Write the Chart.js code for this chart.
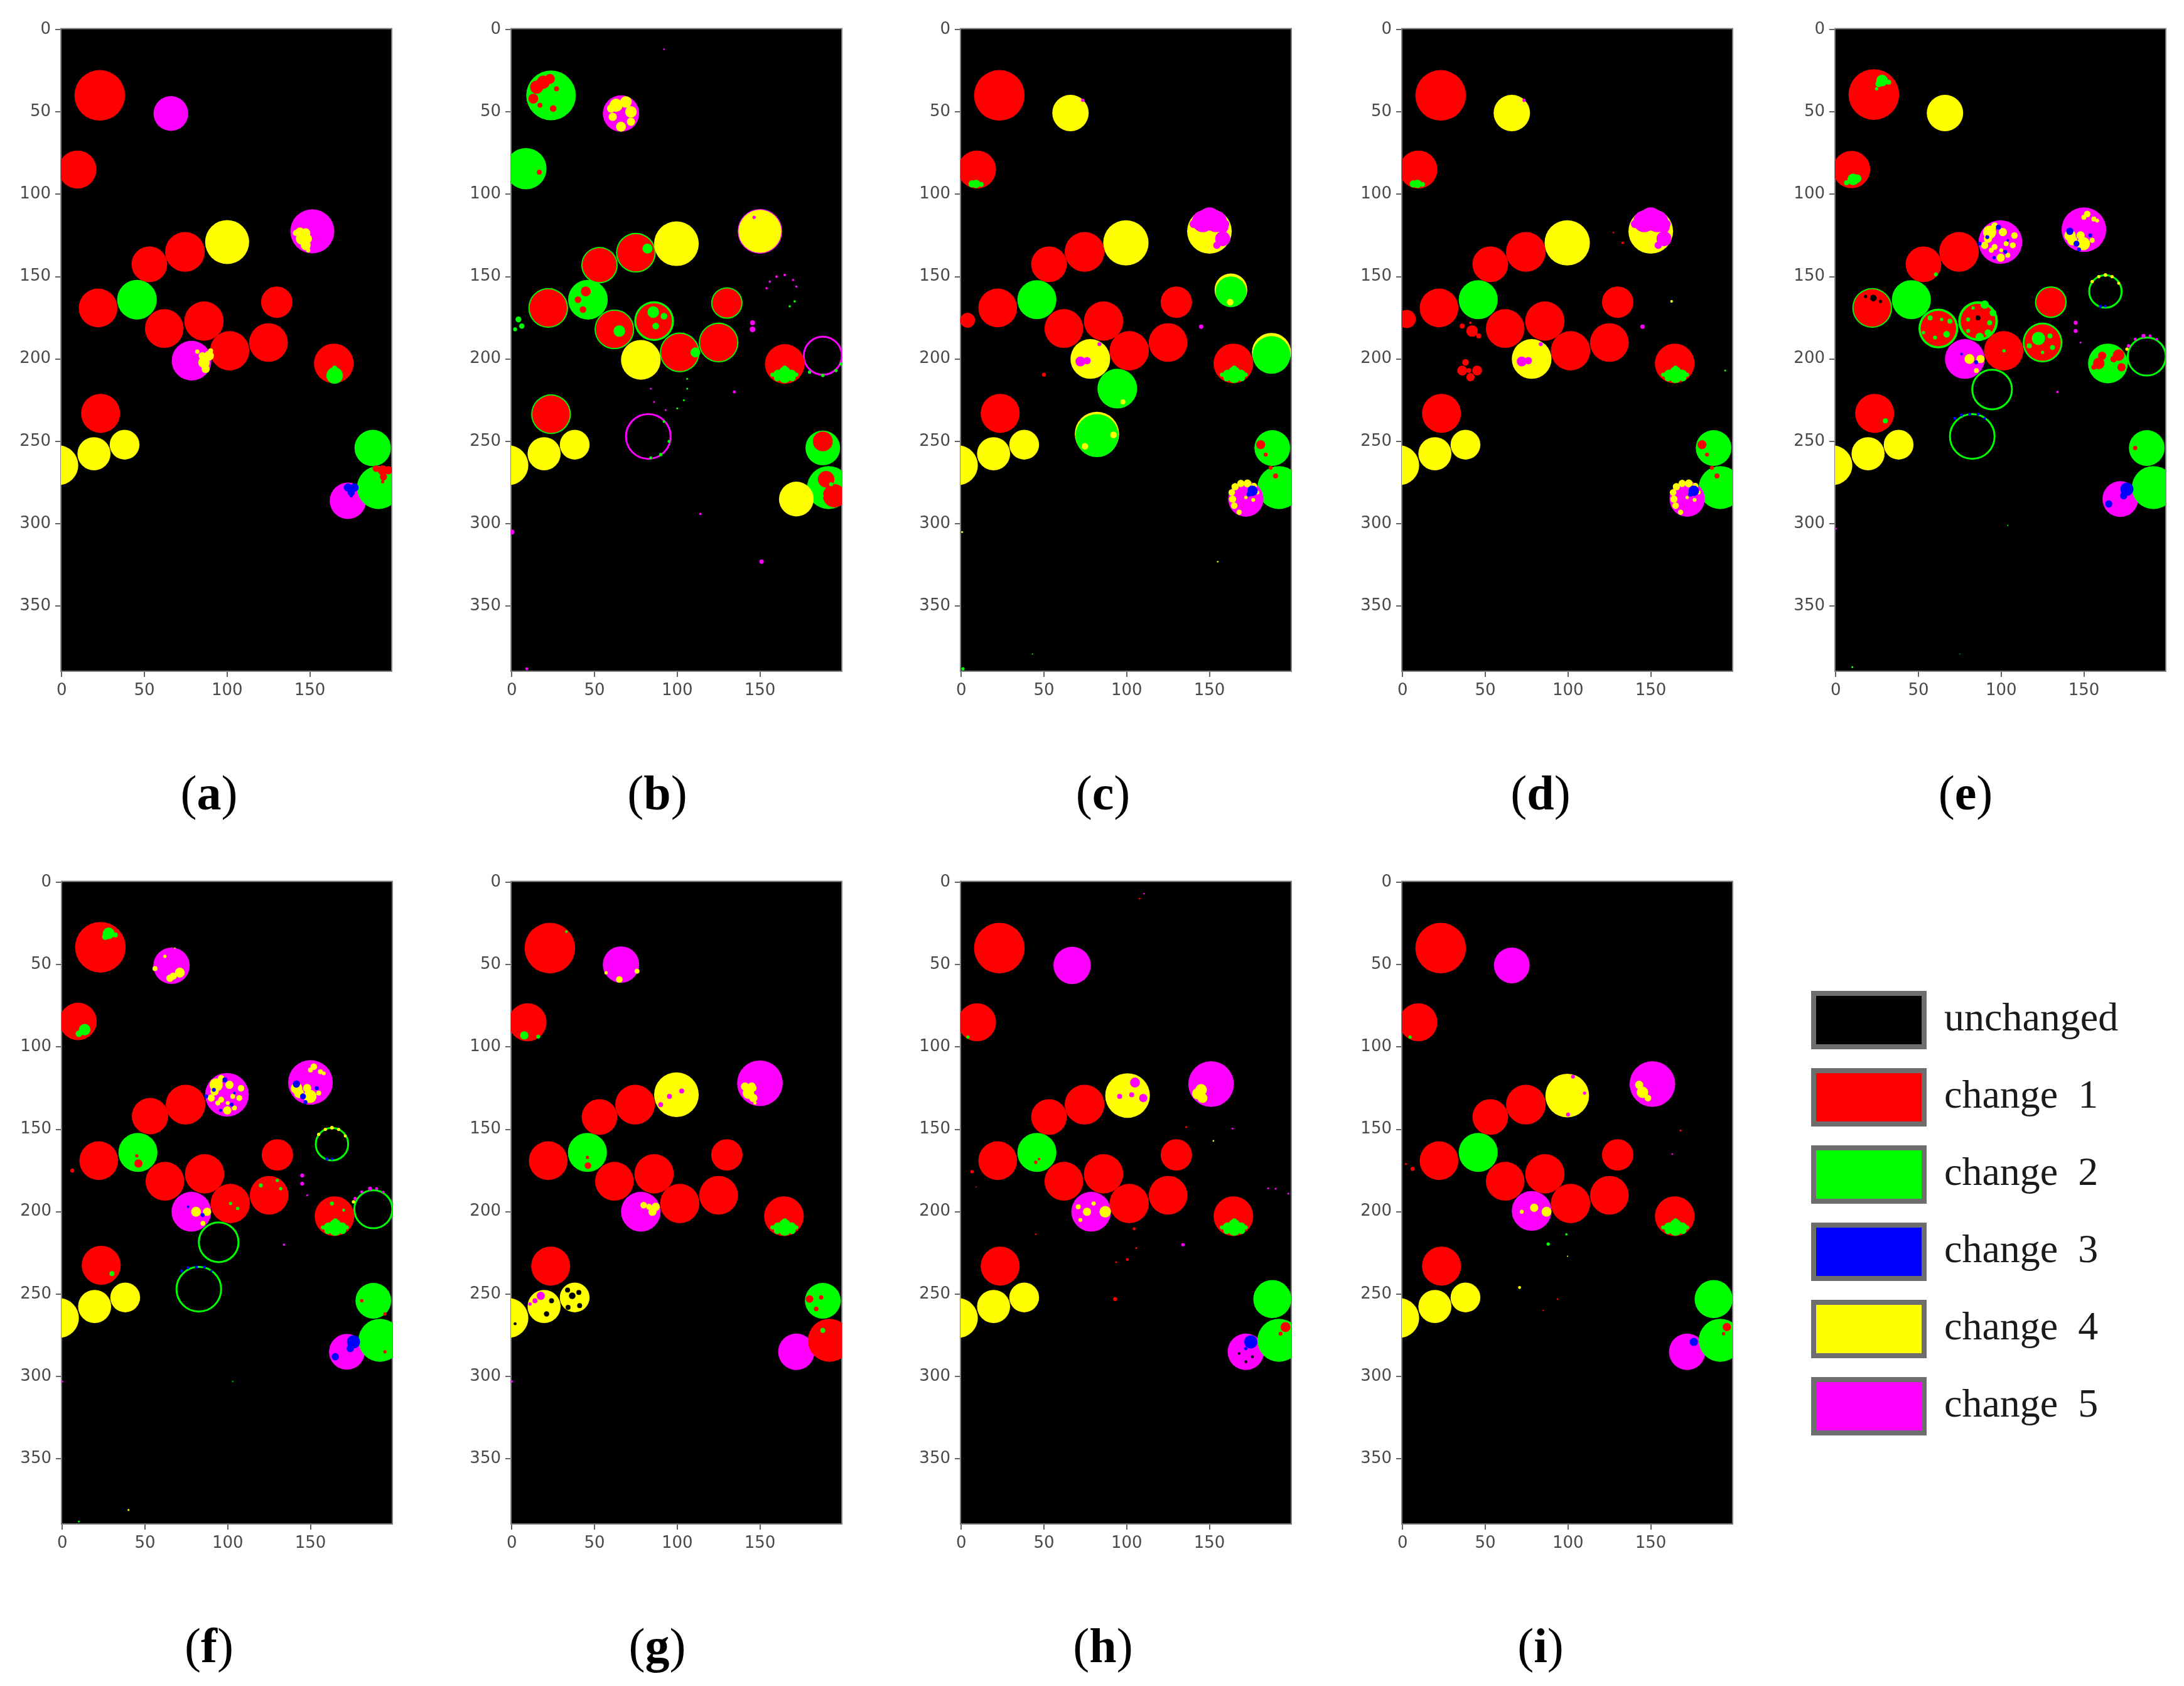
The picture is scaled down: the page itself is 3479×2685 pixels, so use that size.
<!DOCTYPE html>
<html>
<head>
<meta charset="utf-8">
<title>Change maps</title>
<script src="https://cdn.jsdelivr.net/npm/chart.js@4"></script>
<style>
    body { margin: 0; background: #fff; }
    #page { position: relative; width: 3479px; height: 2685px; overflow: hidden; }
    canvas { position: absolute; }
    .caption { position: absolute; width: 200px; margin-left: -100px; text-align: center; color: #000;
        font: 78px/90px "Liberation Serif", serif; }
    .caption b { font-weight: bold; }
</style>
</head>
<body>
<div id="page"></div>
<script>
// axis ticks, in image pixels
const xTicks = [0, 50, 100, 150];
const yTicks = [0, 50, 100, 150, 200, 250, 300, 350];
const legendNames = ['unchanged', 'change  1', 'change  2', 'change  3', 'change  4', 'change  5'];
const legendColors = ['#000000', '#ff0000', '#00ff00', '#0000ff', '#ffff00', '#ff00ff'];

// every disc is [x, y, radius], in image pixels
const commonRed = [[23, 40, 15.3], [74.5, 135, 12], [53, 142.5, 10.8], [22, 169, 11.7], [130, 165.5, 9.5], [86, 177, 11.9], [62, 181.5, 11.7], [101.5, 195, 11.9], [125, 190, 11.7], [23.5, 233, 11.8]];
const commonYellow = [[38, 252, 9], [19.5, 257.5, 10], [-2, 264.5, 12]];
const leftRed = [[9.5, 85, 11.5]];
const tumorP = [[164.5, 202.7, 12]];
const wedgeP = [[165, 205.5, 1.5], [165, 208, 3.5], [161, 209.5, 3], [169, 209.5, 3], [157.5, 209.5, 1.2], [172, 209.5, 1.2], [165, 211, 3.6], [160.5, 211.5, 2], [169.5, 211.5, 2]];
const greenWX = [[188, 254, 10.8], [192, 278, 13]];
const ringR = [[163, 159, 9.8]];
const ringQ = [[188, 198, 11.5]];
const ringS = [[94.5, 218.5, 12]];
const ringT = [[82.5, 247, 13.5]];

// panels (e) and (f) share the same mottled discs
const mottledMagenta = [[99.5, 129, 13.2], [150, 121.5, 13.5], [78, 200, 12], [172, 285, 10.8]];
const mottledYellow = [[93, 123, 4], [90, 131, 2.2], [101, 123, 2.5], [108, 125, 2], [99.7, 138.5, 2.5], [96, 132, 1.8], [92, 127, 2.5], [96, 119, 2], [103, 130, 1.5], [107, 131, 1.8], [94, 134, 1.5], [104, 137, 1.5], [100, 134, 1.2], [141.6, 125, 3.5], [149.7, 130, 4], [143, 128, 3], [148, 125, 2.5], [155, 128, 1.5], [152, 112, 2], [156, 115, 1.5], [158, 116, 1.2], [150, 114, 1.5], [80.8, 200, 3], [87.5, 200, 2.5], [85, 207, 1.5]];
const mottledBlue = [[98.3, 120, 1.5], [91.6, 126, 1.2], [87, 130, 1.2], [95.7, 138.5, 1], [102.4, 135, 1.2], [104, 128, 0.8], [141.5, 122.5, 2.2], [145.5, 130, 1.8], [153.8, 125, 1.2], [147, 133.5, 1.2], [84.8, 202, 1.2], [76, 197, 0.8], [176, 279, 4], [174, 283, 2.2], [165, 288, 2.2]];
const mottledRim = [[86, 177, 12], [62, 181.5, 12], [125, 190, 12], [130, 165.5, 9.6], [164.5, 202.7, 12], [22, 169, 12]];
const mottledRingTop = [[155, 153, 1], [159, 150, 1], [163, 149, 1.1], [167, 150, 1], [171, 154, 0.9], [176, 194, 1]];
const mottledRingBlue = [[160, 168, 1], [163, 168, 0.8], [72, 236, 0.9], [76, 234, 0.9], [81, 233.5, 0.9], [86, 233.5, 0.9], [90, 236, 0.7]];
const mottledRingMagenta = [[177, 192, 1], [181, 188, 0.9], [186, 186, 1.2], [190, 186, 0.9], [194, 188, 0.8]];
const mottledRingGreen = [[188, 198.5, 11.5], ...ringS, ...ringT];

// (a)
const aMagenta = [[66, 51, 10.5], [151.5, 122.5, 13.3], [78.5, 201, 12], [173, 286, 11]];
const aYellow = [[100, 129, 13.3]];
const aGreen = [[45.5, 164, 12], [188, 254, 11], [191.5, 278, 13]];
const aPatchYellow = [[144, 123, 2.8], [147.5, 123.5, 2.8], [141.5, 123.5, 1.8], [145, 127, 3.5], [148.5, 127, 2.8], [147.5, 131, 3], [149, 134, 1.3], [82, 195.5, 1.3], [85, 198, 2.2], [89, 198, 3], [86, 202, 3.5], [87, 206, 2.5], [90, 195, 1.5]];
const aPatchGreen = [[165, 210, 5], [165, 205.5, 1.5]];
const aPatchRed = [[190, 266.5, 2], [194, 267.5, 3], [197.5, 267.5, 2.5], [194.5, 271.5, 2.2], [194, 274.5, 1]];
const aPatchBlue = [[173, 278, 2.5], [177, 278, 2.5], [175, 281, 2.2], [175, 283, 1]];

// (b)
const bRim = [[23.7, 40, 15], [8.5, 84.5, 12.5], [75, 135.5, 12], [53, 143, 11], [22, 169, 12], [46, 164, 12], [86, 177, 12], [62, 182, 12], [101.5, 196, 12], [125, 190, 12], [130, 166, 9.5], [23.7, 233.5, 12], [188, 254, 10.5], [191.5, 278, 13]];
const bRed = [[75, 135.5, 11.3], [53, 143, 10.3], [22, 169, 11.3], [62, 182, 11.3], [101.5, 196, 11.3], [125, 190, 11.3], [130, 166, 8.8], [23.7, 233.5, 11.3], [86, 177, 10.8], [165, 203, 12], [15, 35, 4], [19, 32, 4], [23, 30, 3], [13, 42, 3], [17, 46, 1.5], [25, 48, 2], [27, 36, 1.5], [44.7, 159, 3], [43, 170, 2], [40, 164, 2], [16.6, 86.6, 1.5], [188, 250, 6], [195, 283, 7], [190, 273, 5]];
const bMagenta = [[66, 51, 11], [150, 122.5, 13.5]];
const bYellow = [[99.5, 130, 13.5], [150, 122.5, 13], [78, 200.5, 12], [172, 285, 10.5], [63, 46, 4], [69, 44, 3.5], [72, 50, 3.5], [61, 53, 2.5], [66, 59, 3], [72, 56, 2.5], [60, 48, 2.5]];
const bPatchGreen = [[82, 133, 3], [65, 183, 3.5], [85.5, 171.5, 3.5], [87, 180, 2], [92, 174, 2], [111, 196, 3], [193, 276, 1.2], [187, 283, 1.5], [4, 176, 1.8], [6, 180, 1.6], [2, 182, 1.2], ...wedgeP];
const bSpeckMagenta = [[146.5, 114, 1], [145.5, 178, 1.5], [145.5, 182, 1.7], [134.5, 220, 0.9], [151, 323, 1.3], [114, 294, 0.7], [0, 305, 1.5], [9, 388, 0.9], [92, 12, 0.5], [154, 157, 0.7], [156, 153, 0.7], [160, 150, 0.8], [165, 149, 0.8], [170, 152, 0.7], [172, 156, 0.7], [84, 218, 0.6], [86, 226, 0.6], [93, 231, 0.6]];
const bRingMagenta = [...ringQ, ...ringT];
const bRingDots = [[180, 208, 1], [188, 210, 1], [196, 207, 1], [199, 203, 1], [90, 258, 1], [95, 250, 0.9], [84, 260, 0.9], [92, 238, 0.8], [168, 168, 0.7], [171, 165, 0.7], [106, 218, 0.6], [104, 225, 0.6], [100, 230, 0.6], [106, 212, 0.6]];

// (c)
const cRed = [[3.8, 176.5, 4.5], [50, 209.5, 1.2], [181, 252, 2.7], [184, 258, 1.2], [187, 266, 1.2], [190, 271, 1.5]];
const cYellowBase = [[99.5, 129.5, 13.7], [150, 122.5, 13.5], [78, 200, 12], [187.5, 196, 11.8], [163, 158, 9.9], [82, 245.5, 13.4], [66, 50.7, 11]];
const cGreen = [[45.7, 164, 11.8], [187.5, 197.5, 11.4], [163, 159.2, 9.3], [94.3, 218, 12], [82, 246.5, 13]];
const cMagenta = [[146, 116.5, 6.5], [154, 116.5, 6.5], [150, 115, 7], [140.5, 118, 2.5], [159.5, 118, 2.5], [158, 120, 3.5], [158, 127, 4.5], [154.5, 131, 2.2], [72, 201.5, 3], [76, 201, 2.2], [83.5, 191, 1.2], [73.4, 43, 1], [145, 180.4, 1.3]];
const cPatchYellow = [[162.5, 165.5, 2], [97.7, 226, 1.5], [92, 246, 2], [74.7, 253, 2], [0.5, 305, 0.6], [155, 323, 0.5]];
const cPatchGreen = [[6.5, 93.7, 2.2], [9, 93.7, 2.5], [12, 94, 1.5], [1, 388, 1], [43, 379, 0.4], ...wedgeP];
const cSpotMagenta = [[172, 285, 10.7]];
const cSpotYellow = [[164, 285, 2.2], [163.5, 281, 2], [165.5, 277.5, 2.2], [169, 275.5, 2.2], [173, 275.5, 2.4], [177, 277, 1.8], [179, 281, 1.2], [176.5, 285.5, 1.2], [172, 284, 1], [165, 289, 2], [168, 293, 1.6]];
const cSpotBlue = [[176, 280, 3.2], [174, 282, 1.5]];

// (d)
const dRed = [[2.5, 175.7, 5.5], [42, 183, 3.5], [46, 186, 1.5], [36, 180, 1.5], [41, 178, 0.8], [36, 207, 3], [45, 207, 3], [41, 211, 2.5], [38, 202, 2], [40, 207, 1.5], [127.4, 123.3, 0.5], [133, 129.5, 0.8]];
const dYellowBase = [[99.5, 129.5, 13.7], [150, 122.5, 13.5], [78, 200, 12], [66, 50.7, 11]];
const dGreen = [[45.7, 164, 11.8], [192, 278, 13], [188, 254, 10.8]];
const dSpecks = [[162.6, 165, 0.8]];
const dGreenSpeck = [[195, 207, 0.6], [6.5, 93.7, 2.2], [9, 93.7, 2.5], [12, 94, 1.5], ...wedgeP];

// (e)
const eGreen = [[45.7, 164, 11.8], [188, 254, 10.8], [192, 278, 13]];
const eRedBodies = [[23, 39.5, 15.3], [74.5, 135, 12], [53, 142.5, 10.8], [101.5, 195, 11.9], [23.5, 233, 11.8], [9.5, 85, 11.3], [22, 169, 11.3], [86, 177, 10.5], [62, 181.5, 10.7], [125, 190, 11], [130, 165.5, 8.8]];
const ePatchGreen = [[28, 31, 3.5], [26, 33, 2], [32, 32, 1.5], [24.7, 36, 1], [10.5, 91, 3.5], [13, 90.5, 2.5], [6.5, 93, 1.5], [90, 167, 2.5], [95, 172, 2], [83, 169, 1], [87, 186.6, 2.5], [92, 184, 2], [80, 183, 1.2], [80, 176, 1.2], [93, 178, 1.5], [69, 177, 1.5], [60, 187, 1.2], [57, 175, 1.5], [67, 185, 2], [53, 184, 1], [64, 176, 1], [122.5, 187.5, 4], [117, 192, 1.5], [129.5, 186, 1.5], [131, 193, 1.5], [125, 196, 1], [101.7, 195, 1], [60.5, 148.6, 1.2], [30, 237.5, 1.5], [104, 301, 0.4], [10, 387, 0.6], [75, 379, 0.3]];
const ePatchRed = [[159, 202.7, 3.5], [161, 198, 2.5], [156, 205, 1.5], [171, 197.6, 3.5], [168, 200, 2], [172.7, 205, 2.5], [181, 254, 1.3]];
const ePatchBlack = [[22.7, 163, 2], [18, 162, 1], [27, 165, 1], [86, 175, 1.5]];
const eYellow = [[66, 50.7, 11], ...commonYellow];
const eSpecks = [[145, 178, 1.2], [145, 183, 1.2], [148, 190, 0.6], [134, 220, 0.7], [0, 303, 0.6]];

// (f)
const fMagentaSpots = [[66, 50.7, 11]];
const fYellowSpots = [[71, 54.9, 3], [67, 57, 2.2], [65, 58.3, 2.2], [56, 52.4, 1.5], [62, 45, 1], [68, 40, 0.4], [40, 381, 0.6]];
const fRed = [[23, 39.5, 15.3], [74.5, 135, 12], [53, 142, 11], [22, 169, 11.7], [130, 165.5, 9.5], [86, 177, 11.9], [62, 181.5, 11.7], [101.5, 195, 11.9], [125, 190, 11.7], [23.5, 232.5, 11.8], [9.5, 84.5, 11.3], [164.5, 202.7, 12], [46, 170.7, 2.5], [45, 166, 1]];
const fPatchGreen = [[13.5, 89.5, 3.5], [10, 92, 2], [28, 31, 3.5], [26, 33, 2], [32, 32, 1.5], [101.7, 195, 1], [106, 198, 1], [120, 184, 1.2], [130, 181, 1], [132, 186, 1], [163, 195, 1.2], [170, 199, 0.9], [30, 237.5, 1.5], [103, 303, 0.4], [10, 388, 0.6], ...wedgeP];
const fGreenBig = [[45.7, 164, 11.8], [188, 254, 10.8], [192, 278, 13]];
const fSpecksRed = [[6, 175, 1.2], [181, 254, 1], [195, 262, 1], [195, 285, 1]];

// (g)
const gYellow = [[99.5, 129, 13.5], [38, 252, 9], [19.5, 257.5, 10], [-2, 264.5, 12]];
const gMagenta = [[66, 50, 11], [150, 122, 13.8], [78, 200, 12], [172, 285, 11]];
const gGreen = [[45.7, 164, 11.8], [188, 254, 10.8]];
const gRed = [[192, 278, 13], [180, 253, 2.3], [187, 252, 1.3], [184, 259, 1.4], [46, 172, 2], [45.7, 167, 1]];
const gPatchYellow = [[65, 59, 2], [75.7, 54, 1.5], [57, 55, 1], [141, 124, 2.5], [145, 124, 2.5], [143, 128, 3.5], [146, 131, 2.5], [146, 125, 2], [147, 134, 1], [79.7, 196, 2], [85, 200, 2.5], [87, 197, 2.5], [83, 197, 1.8]];
const gPatchMagenta = [[102.7, 126.7, 1.5], [95.3, 130, 1.5], [90, 135, 1.5], [17.5, 251, 2.5], [14, 254, 1.5], [11, 256, 1], [0, 303, 0.7]];
const gPatchBlack = [[36.5, 251, 2], [33.7, 247.5, 1.5], [40.5, 249, 1.5], [41, 257, 1.5], [34, 258, 1.5], [24, 254, 1.5], [21, 262, 1.6], [12, 266, 1.2], [2, 268, 0.9]];
const gPatchGreen = [[7.5, 93, 2.5], [16, 93.7, 1.2], [188, 272, 1.5], [33, 30, 0.8], ...wedgeP];

// (h)
const hMagenta = [[67, 50.5, 11.3], [151, 122.5, 13.8], [78.5, 200, 12], [172, 285, 11]];
const hYellow = [[100.5, 129.5, 13.5], ...commonYellow];
const hGreen = [[45.7, 164, 11.8], [188, 253, 11.5], [192, 278, 13]];
const hPatchRed = [[196, 270, 3], [193, 274, 1.2], [45, 170, 1], [47, 168, 0.8], [104.5, 210.3, 0.9], [105.8, 222, 0.6], [100.4, 229, 0.9], [93.6, 230.6, 0.6], [107.8, 10, 0.5], [45, 213.7, 0.5], [93, 253, 1.2], [136, 148.6, 0.6], [6.5, 175.7, 1], [9, 185, 0.4]];
const hPatchMagenta = [[105, 121.6, 3], [110, 131, 2.5], [103, 129, 1.5], [95.7, 130, 1.5], [110.5, 7, 0.5], [134, 220, 1], [164, 149.5, 0.6], [185.5, 185.8, 0.6], [190, 186, 0.6], [197.7, 189, 0.6]];
const hPatchYellow = [[143, 128.4, 3.5], [145, 126, 3.5], [145.8, 131, 3], [87, 200, 3.5], [76, 200, 2.5], [70.7, 197, 1.5], [80, 195, 1.3], [72, 205, 1.2], [152.4, 157, 0.5]];
const hPatchBlue = [[175, 279, 4], [172, 283, 1]];
const hPatchBlack = [[172, 291, 0.9], [176, 288, 0.9], [168, 286, 0.8]];
const hPatchGreen = [[4, 94, 1], ...wedgeP];

// (i)
const iMagenta = [[66, 50.5, 10.8], [151, 122.5, 13.8], [78, 199.5, 12], [172, 285, 11]];
const iYellow = [[99.5, 129.5, 13.2], ...commonYellow];
const iGreen = [[45.7, 164, 11.8], [188, 253, 11.5], [192, 278, 13]];
const iPatchMagenta = [[103, 118, 1.2], [110, 128, 1], [100, 141, 1.2], [163, 165, 0.5]];
const iPatchYellow = [[145, 127.5, 3.5], [143, 123, 2.5], [148.3, 131, 2], [87, 200, 3], [79.5, 197.6, 2.5], [72, 200, 1.2], [70.7, 246, 0.9], [99.7, 227, 0.4]];
const iPatchBlue = [[176, 279, 2.5]];
const iPatchRed = [[196, 270, 2.5], [194, 274, 1], [93.6, 253, 0.5], [85, 260, 0.4], [168, 150.7, 0.6], [6, 174, 1.2], [2, 171, 0.6]];
const iPatchGreen = [[4.5, 94, 1], [99, 213.7, 0.7], [88, 219.6, 1], ...wedgeP];

const panelA = [['magenta', aMagenta], ['yellow', aYellow], ['yellow', commonYellow], ['green', aGreen], ['red', commonRed], ['red', leftRed], ['red', tumorP],
    ['yellow', aPatchYellow], ['green', aPatchGreen], ['red', aPatchRed], ['blue', aPatchBlue]];
const panelB = [['ring-magenta', bRingMagenta], ['magenta', bMagenta], ['green', bRim], ['red', bRed], ['yellow', bYellow], ['yellow', commonYellow],
    ['green', bPatchGreen], ['magenta', bSpeckMagenta], ['green', bRingDots]];
const panelC = [['yellow', cYellowBase], ['green', cGreen], ['red', commonRed], ['red', leftRed], ['red', tumorP], ['yellow', commonYellow], ['green', greenWX], ['red', cRed],
    ['green', cPatchGreen], ['magenta', cMagenta], ['yellow', cPatchYellow], ['magenta', cSpotMagenta], ['yellow', cSpotYellow], ['blue', cSpotBlue]];
const panelD = [['yellow', dYellowBase], ['green', dGreen], ['red', commonRed], ['red', leftRed], ['red', tumorP], ['yellow', commonYellow], ['red', dRed],
    ['green', dGreenSpeck], ['magenta', cMagenta], ['yellow', dSpecks], ['magenta', cSpotMagenta], ['yellow', cSpotYellow], ['blue', cSpotBlue], ['red', cRed.slice(2)]];
const panelE = [['ring-green', mottledRingGreen], ['ring-green', ringR], ['magenta', mottledMagenta], ['green', eGreen], ['green', mottledRim], ['red', eRedBodies],
    ['green', ePatchGreen], ['red', ePatchRed], ['black', ePatchBlack], ['yellow', eYellow], ['yellow', mottledYellow], ['blue', mottledBlue],
    ['yellow', mottledRingTop], ['blue', mottledRingBlue], ['magenta', mottledRingMagenta], ['magenta', eSpecks]];
const panelF = [['ring-green', mottledRingGreen], ['ring-green', ringR], ['magenta', mottledMagenta], ['magenta', fMagentaSpots], ['green', fGreenBig], ['red', fRed],
    ['green', fPatchGreen], ['red', fSpecksRed], ['yellow', commonYellow], ['yellow', mottledYellow], ['blue', mottledBlue],
    ['yellow', mottledRingTop], ['blue', mottledRingBlue], ['magenta', mottledRingMagenta], ['yellow', fYellowSpots], ['magenta', eSpecks]];
const panelG = [['yellow', gYellow], ['magenta', gMagenta], ['green', gGreen], ['red', commonRed], ['red', leftRed], ['red', tumorP], ['red', gRed],
    ['yellow', gPatchYellow], ['magenta', gPatchMagenta], ['black', gPatchBlack], ['green', gPatchGreen]];
const panelH = [['magenta', hMagenta], ['yellow', hYellow], ['green', hGreen], ['red', commonRed], ['red', leftRed], ['red', tumorP],
    ['red', hPatchRed], ['magenta', hPatchMagenta], ['yellow', hPatchYellow], ['blue', hPatchBlue], ['black', hPatchBlack], ['green', hPatchGreen]];
const panelI = [['magenta', iMagenta], ['yellow', iYellow], ['green', iGreen], ['red', commonRed], ['red', leftRed], ['red', tumorP],
    ['magenta', iPatchMagenta], ['yellow', iPatchYellow], ['blue', iPatchBlue], ['red', iPatchRed], ['green', iPatchGreen]];

// Layout of the figure, plot area top-left in page pixels
const unitPx = 527 / 200;
const plotW = 527, plotH = 1026;
const axisLeft = 70, axisBottom = 60, padTop = 20, padRight = 20;
const panels = [
    { name: 'a', layers: panelA, left: 97, top: 43 },
    { name: 'b', layers: panelB, left: 814, top: 43 },
    { name: 'c', layers: panelC, left: 1530, top: 43 },
    { name: 'd', layers: panelD, left: 2233, top: 43 },
    { name: 'e', layers: panelE, left: 2923, top: 43 },
    { name: 'f', layers: panelF, left: 98, top: 1401 },
    { name: 'g', layers: panelG, left: 814, top: 1401 },
    { name: 'h', layers: panelH, left: 1530, top: 1401 },
    { name: 'i', layers: panelI, left: 2233, top: 1401 },
];
const captionX = { a: 333, b: 1047, c: 1757, d: 2454, e: 3131, f: 333, g: 1047, h: 1757, i: 2454 };

const paletteOf = { red: '#ff0000', green: '#00ff00', blue: '#0000ff', yellow: '#ffff00', magenta: '#ff00ff', black: '#000000' };
const page = document.getElementById('page');

// Black image background and thin frame, behind the discs
const imageBackground = {
    id: 'imageBackground',
    beforeDatasetsDraw(chart) {
        const { ctx, chartArea: a } = chart;
        ctx.save();
        ctx.fillStyle = '#000';
        ctx.fillRect(a.left, a.top, a.width, a.height);
        ctx.strokeStyle = '#808080';
        ctx.lineWidth = 2;
        ctx.strokeRect(a.left, a.top, a.width, a.height);
        ctx.restore();
    }
};

function addCanvas(left, top, width, height) {
    const canvas = document.createElement('canvas');
    canvas.width = width;
    canvas.height = height;
    canvas.style.left = left + 'px';
    canvas.style.top = top + 'px';
    page.appendChild(canvas);
    return canvas;
}

function toDataset([colour, discs]) {
    const isRing = colour.startsWith('ring-');
    const name = colour.replace('ring-', '');
    return {
        label: colour,
        data: discs.map(([x, y, r]) => ({ x, y, r: r * unitPx })),
        backgroundColor: isRing ? 'transparent' : paletteOf[name],
        borderColor: paletteOf[name],
        borderWidth: isRing ? 3 : 0,
        clip: 0
    };
}

function axisOptions(ticks, min, max, extra) {
    return {
        type: 'linear',
        min: min,
        max: max,
        afterBuildTicks: (scale) => { scale.ticks = ticks.map(value => ({ value })); },
        grid: { drawOnChartArea: false, drawTicks: true, tickLength: 9, color: '#666', lineWidth: 2 },
        border: { display: false },
        ticks: {
            autoSkip: false, maxRotation: 0, padding: 7, color: '#4a4a4a',
            font: { family: 'DejaVu Sans', size: 26 }
        },
        ...extra
    };
}

panels.forEach((panel) => {
    const canvas = addCanvas(panel.left - axisLeft, panel.top - padTop, axisLeft + plotW + padRight, padTop + plotH + axisBottom);
    new Chart(canvas, {
        type: 'bubble',
        // Chart.js paints the first dataset last, so flip to keep patches on top of their discs
        data: { datasets: panel.layers.map(toDataset).reverse() },
        options: {
            responsive: false,
            animation: false,
            devicePixelRatio: 1,
            layout: { autoPadding: false, padding: { top: padTop, right: padRight, left: 0, bottom: 0 } },
            plugins: { legend: { display: false }, tooltip: { enabled: false } },
            scales: {
                x: axisOptions(xTicks, -0.5, 199.5, { afterFit: (scale) => { scale.height = axisBottom; } }),
                y: axisOptions(yTicks, -0.5, 389.5, { reverse: true, afterFit: (scale) => { scale.width = axisLeft; } })
            }
        },
        plugins: [imageBackground]
    });

    const caption = document.createElement('div');
    caption.className = 'caption';
    caption.innerHTML = `(<b>${panel.name}</b>)`;
    caption.style.left = captionX[panel.name] + 'px';
    caption.style.top = (panel.top + 1175) + 'px';
    page.appendChild(caption);
});

// Legend is a chart of its own, with empty datasets
new Chart(addCanvas(2851, 1544, 620, 860), {
    type: 'bubble',
    data: {
        datasets: legendNames.map((name, i) => ({
            label: name,
            data: [],
            backgroundColor: legendColors[i],
            borderColor: '#6e6e6e',
            borderWidth: 8
        }))
    },
    options: {
        responsive: false,
        animation: false,
        devicePixelRatio: 1,
        scales: { x: { display: false }, y: { display: false } },
        plugins: {
            tooltip: { enabled: false },
            legend: {
                position: 'left',
                align: 'start',
                maxWidth: 620,
                labels: {
                    boxWidth: 176, boxHeight: 85, padding: 38, color: '#1a1a1a',
                    font: { family: 'Liberation Serif', size: 64 }
                }
            }
        }
    }
});
</script>
</body>
</html>
